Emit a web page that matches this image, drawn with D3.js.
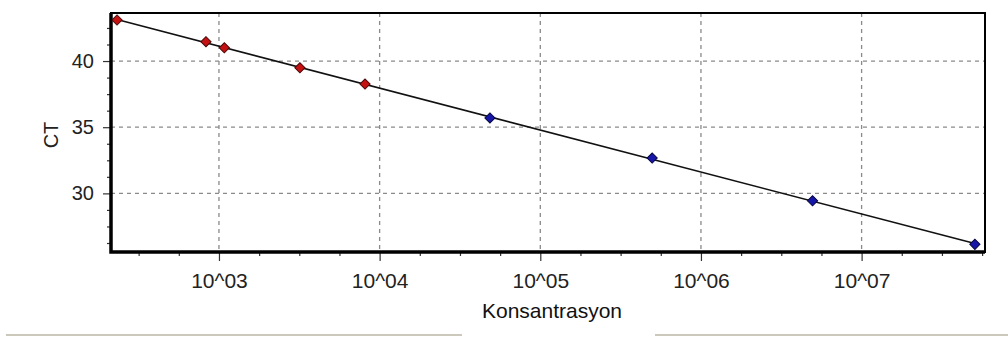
<!DOCTYPE html>
<html>
<head>
<meta charset="utf-8">
<script src="https://cdn.jsdelivr.net/npm/d3@7"></script>
<style>
  body { margin: 0; background: #fff; }
  svg { display: block; font-family: "Liberation Sans", Arial, sans-serif; }
</style>
</head>
<body>
<div id="chart-area"></div>
<script>
// values
var unknownConc = [232, 830, 1080, 3190, 8110];
var unknownCt = [43.1, 41.46, 41.0, 39.49, 38.26];
var standardConc = [48600, 497000, 4950000, 50700000];
var standardCt = [35.7, 32.67, 29.44, 26.15];
var xMajorTicks = [1e3, 1e4, 1e5, 1e6, 1e7];
var xTickLabels = ["10^03", "10^04", "10^05", "10^06", "10^07"];
var yMajorTicks = [30, 35, 40];

var margin = { left: 111, right: 23, top: 13, bottom: 90 },
  width = 1008 - margin.left - margin.right,
  height = 342 - margin.top - margin.bottom;

var svg = d3
  .select("#chart-area")
  .append("svg")
  .attr("width", 1008)
  .attr("height", 342);
var g = svg
  .append("g")
  .attr("transform", "translate(" + margin.left + ", " + margin.top + ")");

// Scales
var x = d3.scaleLog().domain([Math.pow(10, 2.328), Math.pow(10, 7.768)]).range([0, width]);
var y = d3.scaleLinear().domain([25.57, 43.63]).range([height, 0]);

// minor ticks: quarter decades / 1.25 units
var xMinor = [];
for (var d = 2; d <= 8; d += 0.25) {
  var v = Math.pow(10, d);
  if (v >= x.domain()[0] && v <= x.domain()[1] && d % 1 !== 0) xMinor.push(v);
}
var yMinor = [];
for (var c = 25; c <= 44; c += 1.25) {
  if (c >= y.domain()[0] && c <= y.domain()[1] && c % 5 !== 0) yMinor.push(c);
}

// Grid
g.append("g")
  .selectAll("line")
  .data(xMajorTicks)
  .enter()
  .append("line")
  .attr("x1", function(d) { return x(d); })
  .attr("x2", function(d) { return x(d); })
  .attr("y1", 0)
  .attr("y2", height)
  .attr("stroke", "#8a8a8a")
  .attr("stroke-width", 1.3)
  .attr("stroke-dasharray", "4,4");
g.append("g")
  .selectAll("line")
  .data(yMajorTicks)
  .enter()
  .append("line")
  .attr("x1", 0)
  .attr("x2", width)
  .attr("y1", function(d) { return y(d); })
  .attr("y2", function(d) { return y(d); })
  .attr("stroke", "#8a8a8a")
  .attr("stroke-width", 1.3)
  .attr("stroke-dasharray", "4,4");

// X-axis
var xAxisCall = d3.axisBottom(x)
  .tickValues(xMajorTicks)
  .tickSize(9)
  .tickPadding(12)
  .tickFormat(function(d, i) { return xTickLabels[i]; });
var xAxis = g.append("g")
  .attr("transform", "translate(0," + height + ")")
  .call(xAxisCall);
g.append("g")
  .attr("transform", "translate(0," + height + ")")
  .call(d3.axisBottom(x).tickValues(xMinor).tickSize(4).tickFormat(""));

// Y-axis
var yAxisCall = d3.axisLeft(y).tickValues(yMajorTicks).tickSize(8).tickPadding(9);
var yAxis = g.append("g").call(yAxisCall);
g.append("g").call(d3.axisLeft(y).tickValues(yMinor).tickSize(4).tickFormat(""));

svg.selectAll(".domain").remove();
svg.selectAll(".tick line").attr("stroke", "#333").attr("stroke-width", 1.2);
svg.selectAll(".tick text")
  .attr("fill", "#222")
  .attr("font-size", "21px")
  .attr("font-family", "'Liberation Sans', Arial, sans-serif");
yAxis.selectAll(".tick text").attr("font-size", "20px");

// Frame
g.append("rect")
  .attr("width", width)
  .attr("height", height)
  .attr("fill", "none")
  .attr("stroke", "#000")
  .attr("stroke-width", 2);
g.append("path")
  .attr("d", "M0,0V" + height + "H" + width)
  .attr("fill", "none")
  .attr("stroke", "#000")
  .attr("stroke-width", 3.5);

// Fit line (least squares on log10 of concentration)
var allConc = unknownConc.concat(standardConc),
  allCt = unknownCt.concat(standardCt);
var lx = allConc.map(function(d) { return Math.log10(d); }),
  mx = d3.mean(lx),
  my = d3.mean(allCt);
var slope = d3.sum(lx, function(v, i) { return (v - mx) * (allCt[i] - my); }) /
  d3.sum(lx, function(v) { return (v - mx) * (v - mx); });
var intercept = my - slope * mx;
var ext = d3.extent(allConc);
g.append("path")
  .datum(ext)
  .attr("fill", "none")
  .attr("stroke", "#111")
  .attr("stroke-width", 1.6)
  .attr("d", d3.line()
    .x(function(d) { return x(d); })
    .y(function(d) { return y(intercept + slope * Math.log10(d)); }));

// Markers: square turned 45 degrees
var diamond = d3.symbol().type(d3.symbolSquare).size(52);
function drawPoints(conc, ct, fill, edge) {
  g.append("g")
    .selectAll("path")
    .data(conc)
    .enter()
    .append("path")
    .attr("d", diamond)
    .attr("transform", function(d, i) {
      return "translate(" + x(d) + "," + y(ct[i]) + ") rotate(45)";
    })
    .attr("fill", fill)
    .attr("stroke", edge)
    .attr("stroke-width", 1);
}
drawPoints(unknownConc, unknownCt, "#c41212", "#4a0808");
drawPoints(standardConc, standardCt, "#1616a8", "#080840");

// Labels
svg.append("text")
  .attr("transform", "translate(58,135) rotate(-90)")
  .attr("text-anchor", "middle")
  .attr("font-size", "20px")
  .attr("fill", "#222")
  .text("CT");

// bottom separator with gap under the label
svg.append("line")
  .attr("x1", 6)
  .attr("x2", 1008)
  .attr("y1", 335)
  .attr("y2", 335)
  .attr("stroke", "#ccc8bc")
  .attr("stroke-width", 2);
svg.append("rect")
  .attr("x", 462)
  .attr("y", 296)
  .attr("width", 193)
  .attr("height", 46)
  .attr("fill", "#fff");
svg.append("text")
  .attr("x", 552)
  .attr("y", 318)
  .attr("text-anchor", "middle")
  .attr("font-size", "21px")
  .attr("fill", "#111")
  .text("Konsantrasyon");
</script>
</body>
</html>
